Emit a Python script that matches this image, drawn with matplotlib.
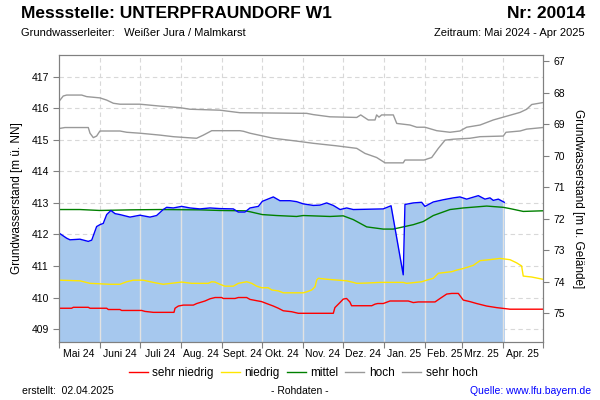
import matplotlib
matplotlib.use('Agg')
import matplotlib.pyplot as plt
import matplotlib.dates as mdates
import pandas as pd
import numpy as np

plt.rcParams['font.family'] = ['Liberation Sans', 'DejaVu Sans']

start = pd.Timestamp('2024-05-01')
end = pd.Timestamp('2025-05-01')
gelaende = 484.5   # Geländehöhe [m ü. NN]

# Messwerte (Tage seit 01.05.2024, m ü. NN)
mess_tag = [0, 5.6, 8.1, 15.6, 21.9, 24.5, 28.2, 30.7, 33.2, 35.8, 39, 42.1, 45.8, 53.4, 60.9,
            68.5, 73.5, 78.5, 81.1, 86.1, 92.4, 98.7, 106.2, 113.8, 121.3, 131.4, 135.2, 140.2,
            144, 150.3, 153.3, 161.6, 166.6, 174.2, 179.2, 184.2, 191.8, 196.8, 201.9, 206.9,
            212, 217, 222, 244.6, 250.5, 259.7, 261, 267.3, 273.6, 276.1, 282.4, 289.9, 297.5,
            302.5, 307.6, 316.4, 321.4, 325.2, 327.7, 331.5, 336]
mess_wert = [412.04, 411.88, 411.83, 411.85, 411.78, 411.82, 412.25, 412.31, 412.35, 412.63, 412.76,
             412.66, 412.63, 412.55, 412.61, 412.55, 412.60, 412.79, 412.86, 412.84, 412.89, 412.84,
             412.81, 412.84, 412.82, 412.81, 412.71, 412.71, 412.84, 412.89, 413.05, 413.19, 413.07,
             413.07, 413.04, 412.97, 412.92, 412.93, 413.0, 412.92, 412.79, 412.84, 412.79, 412.81,
             412.91, 410.72, 412.95, 413.0, 413.02, 412.89, 413.03, 413.1, 413.16, 413.19, 413.12,
             413.23, 413.12, 413.16, 413.08, 413.12, 413.02]

# Kennwerte
rot_tag = [0, 9.3, 10.6, 21.9, 23.2, 35.8, 37, 45.8, 47.1, 62.2, 64.7, 71, 86.6, 87.4, 89.9, 93.7,
           101.2, 103.8, 110, 113.8, 117.6, 122.6, 123.8, 132.7, 135.2, 141.5, 144, 149, 152.8,
           156.5, 161.6, 165.4, 169.1, 175.4, 180.5, 206.9, 208.1, 211.9, 214.4, 216.9, 219.4,
           220.7, 235.9, 238.4, 240.4, 244.6, 249.7, 263.5, 267.3, 271, 283.7, 287.5, 292.5,
           296.3, 301.3, 305, 310.1, 315.1, 322.7, 330.2, 340.3, 365]
rot_wert = [409.66, 409.66, 409.69, 409.69, 409.66, 409.66, 409.62, 409.62, 409.59, 409.59, 409.56,
            409.53, 409.53, 409.66, 409.73, 409.76, 409.76, 409.81, 409.89, 409.96, 410.0, 410.0,
            409.97, 409.97, 410.0, 410.0, 409.94, 409.90, 409.87, 409.81, 409.73, 409.66, 409.58,
            409.55, 409.50, 409.50, 409.68, 409.84, 409.95, 409.97, 409.86, 409.74, 409.74, 409.79,
            409.81, 409.81, 409.89, 409.89, 409.84, 409.86, 409.86, 409.97, 410.11, 410.13, 410.13,
            409.92, 409.87, 409.81, 409.73, 409.68, 409.63, 409.63]

gelb_tag = [0, 15.6, 23.2, 38.3, 45.8, 50.9, 55.9, 63.4, 71, 78.5, 92.4, 100, 112.5, 115.1, 117.6,
            121.3, 125.1, 131.4, 135.2, 141.5, 145.3, 149, 152.8, 157.8, 160.4, 165.4, 169.1, 184.2,
            186.8, 190.6, 193.1, 194.3, 195.6, 201.9, 217, 222, 224.6, 232.1, 242.1, 259.7, 262.3,
            273.6, 277.4, 282.4, 286.2, 296.3, 300.1, 305, 312.6, 317.7, 322.7, 332.8, 340.3, 345.3,
            349.1, 350.3, 356.7, 365]
gelb_wert = [410.55, 410.53, 410.45, 410.42, 410.42, 410.50, 410.55, 410.55, 410.48, 410.42, 410.49,
             410.45, 410.45, 410.50, 410.49, 410.42, 410.36, 410.36, 410.45, 410.50, 410.45, 410.36,
             410.31, 410.31, 410.24, 410.21, 410.15, 410.15, 410.18, 410.24, 410.34, 410.55, 410.61,
             410.58, 410.53, 410.48, 410.45, 410.46, 410.48, 410.48, 410.45, 410.50, 410.55, 410.61,
             410.77, 410.82, 410.87, 410.92, 411.02, 411.17, 411.19, 411.24, 411.20, 411.10, 411.0,
             410.68, 410.65, 410.58]

gruen_tag = [0, 15.6, 30.7, 53.4, 76, 106.2, 121.3, 140.2, 144, 153.3, 164.1, 179.2, 184.2, 204.4,
             214.4, 222, 232.1, 244.6, 252.2, 259.7, 267.3, 274.8, 282.4, 295, 305, 322.7, 335.2,
             340.3, 350.3, 365]
gruen_wert = [412.79, 412.79, 412.76, 412.78, 412.79, 412.78, 412.76, 412.75, 412.72, 412.63, 412.6,
              412.57, 412.6, 412.57, 412.59, 412.47, 412.24, 412.17, 412.17, 412.24, 412.31, 412.41,
              412.6, 412.79, 412.84, 412.9, 412.86, 412.82, 412.73, 412.75]

hoch_tag = [0, 4.3, 21.9, 23.2, 25.7, 28.2, 30.7, 45.8, 50.9, 60.9, 76, 86.1, 96.2, 103.7, 108.8,
            115.1, 136.4, 139.2, 144, 161.6, 179.2, 191.8, 209.4, 224.6, 230.8, 239.6, 246, 259.7,
            261, 275.4, 281.2, 286.2, 291.3, 297.5, 310.1, 317.7, 335.2, 337.3, 347.9, 352.9, 365]
hoch_wert = [415.36, 415.39, 415.39, 415.21, 415.07, 415.12, 415.28, 415.28, 415.24, 415.21, 415.15,
             415.10, 415.07, 415.05, 415.15, 415.29, 415.29, 415.27, 415.21, 415.05, 414.96, 414.89,
             414.81, 414.73, 414.57, 414.44, 414.27, 414.27, 414.36, 414.36, 414.44, 414.73, 414.99,
             415.02, 415.05, 415.10, 415.12, 415.24, 415.28, 415.34, 415.39]

shoch_tag = [0, 3, 5.6, 16.9, 20.7, 30.7, 35.8, 40.8, 45.8, 60.9, 76, 91.1, 98.7, 121.3, 136.4,
             186.8, 191.8, 204.4, 224.6, 227.6, 233.3, 238.4, 239.6, 241.4, 243.4, 252.2, 254.8,
             264.8, 269.9, 276.1, 285, 295, 302.5, 307.6, 317.7, 327.7, 337.8, 347.9, 352.9, 356.7, 365]
shoch_wert = [416.23, 416.39, 416.42, 416.42, 416.37, 416.33, 416.26, 416.16, 416.13, 416.13, 416.07,
              416.02, 415.97, 415.94, 415.86, 415.84, 415.80, 415.73, 415.71, 415.79, 415.63, 415.63,
              415.79, 415.72, 415.79, 415.79, 415.52, 415.47, 415.40, 415.40, 415.29, 415.24, 415.28,
              415.40, 415.47, 415.63, 415.75, 415.87, 415.97, 416.12, 416.18]

monate = ['Mai 24', 'Juni 24', 'Juli 24', 'Aug. 24', 'Sept. 24', 'Okt. 24', 'Nov. 24',
          'Dez. 24', 'Jan. 25', 'Feb. 25', 'Mrz. 25', 'Apr. 25']


def zeit(tage):
    return start + pd.to_timedelta(tage, unit='D')


ymin, ymax = 408.6, 417.69

fig = plt.figure(figsize=(6, 4), dpi=100)
ax = fig.add_axes([0.0988, 0.1458, 0.8057, 0.7167])
ax.set_xlim(start, end)
ax.set_ylim(ymin, ymax)

monatsanfang = pd.date_range(start, end, freq='MS')
for m in monatsanfang[1:-1]:
    ax.axvline(m, color='#d8d8d8', lw=0.8, ls=(0, (4, 3)), zorder=1)
for v in range(409, 418):
    ax.axhline(v, color='#d8d8d8', lw=0.8, ls=(0, (4, 3)), zorder=1)

fl = ax.fill_between(zeit(mess_tag), ymin, mess_wert, color='#a6c8ee', lw=0, zorder=2)
clip = fl.get_paths()[0]
for m in monatsanfang[1:-1]:
    ln = ax.axvline(m, color='#e2e2e2', lw=1.0, zorder=3)
    ln.set_clip_path(clip, transform=ax.transData)

ax.plot(zeit(shoch_tag), shoch_wert, color='#999999', lw=1, zorder=4)
ax.plot(zeit(hoch_tag), hoch_wert, color='#999999', lw=1, zorder=4)
ax.plot(zeit(gruen_tag), gruen_wert, color='#008000', lw=1, zorder=4)
ax.plot(zeit(gelb_tag), gelb_wert, color='#ffe600', lw=1, zorder=4)
ax.plot(zeit(rot_tag), rot_wert, color='#ff0000', lw=1, zorder=4)
ax.plot(zeit(mess_tag), mess_wert, color='#0000ff', lw=1, zorder=5)

ax.set_yticks(range(409, 418))
ax.set_xticks(monatsanfang)
ax.set_xticklabels([])
mitte = [m + pd.Timedelta(days=15) for m in monatsanfang[:-1]]
ax.set_xticks(mitte, minor=True)
ax.set_xticklabels(monate, minor=True)
ax.tick_params(axis='x', which='major', length=4, color='#808080')
ax.tick_params(axis='x', which='minor', length=0, labelsize=7.5, pad=5)
ax.tick_params(axis='y', length=4, color='#808080', labelsize=7.5)
for s in ax.spines.values():
    s.set_color('#808080')
ax.set_ylabel('Grundwasserstand [m ü. NN]', fontsize=8.5, labelpad=6)

ax2 = ax.twinx()
ax2.set_ylim(gelaende - ymin, gelaende - ymax)
ax2.set_yticks(range(67, 76))
ax2.tick_params(axis='y', length=4, color='#808080', labelsize=7.5)
for s in ax2.spines.values():
    s.set_color('#808080')
ax2.set_ylabel('Grundwasserstand [m u. Gelände]', fontsize=8.5, rotation=-90, labelpad=14)

fig.text(0.035, 0.965, 'Messstelle: UNTERPFRAUNDORF W1', fontsize=12.5, fontweight='bold', va='center')
fig.text(0.975, 0.965, 'Nr: 20014', fontsize=12.5, fontweight='bold', va='center', ha='right')
fig.text(0.035, 0.917, 'Grundwasserleiter:   Weißer Jura / Malmkarst', fontsize=8, va='center')
fig.text(0.975, 0.917, 'Zeitraum: Mai 2024 - Apr 2025', fontsize=8, va='center', ha='right')

namen = ['sehr niedrig', 'niedrig', 'mittel', 'hoch', 'sehr hoch']
farben = ['#ff0000', '#ffe600', '#008000', '#999999', '#999999']
griffe = [plt.Line2D([], [], color=c, lw=1) for c in farben]
fig.legend(griffe, namen, loc='center', bbox_to_anchor=(0.505, 0.068), ncol=5, frameon=False,
           fontsize=8.5, handlelength=1.6, handletextpad=0.4, columnspacing=0.6)

fig.text(0.037, 0.022, 'erstellt:  02.04.2025', fontsize=7.5, va='center')
fig.text(0.5, 0.022, '- Rohdaten -', fontsize=7.5, va='center', ha='center')
fig.text(0.985, 0.022, 'Quelle: www.lfu.bayern.de', fontsize=7.5, va='center', ha='right', color='#0000ff')

fig.savefig('out.png', dpi=100)
